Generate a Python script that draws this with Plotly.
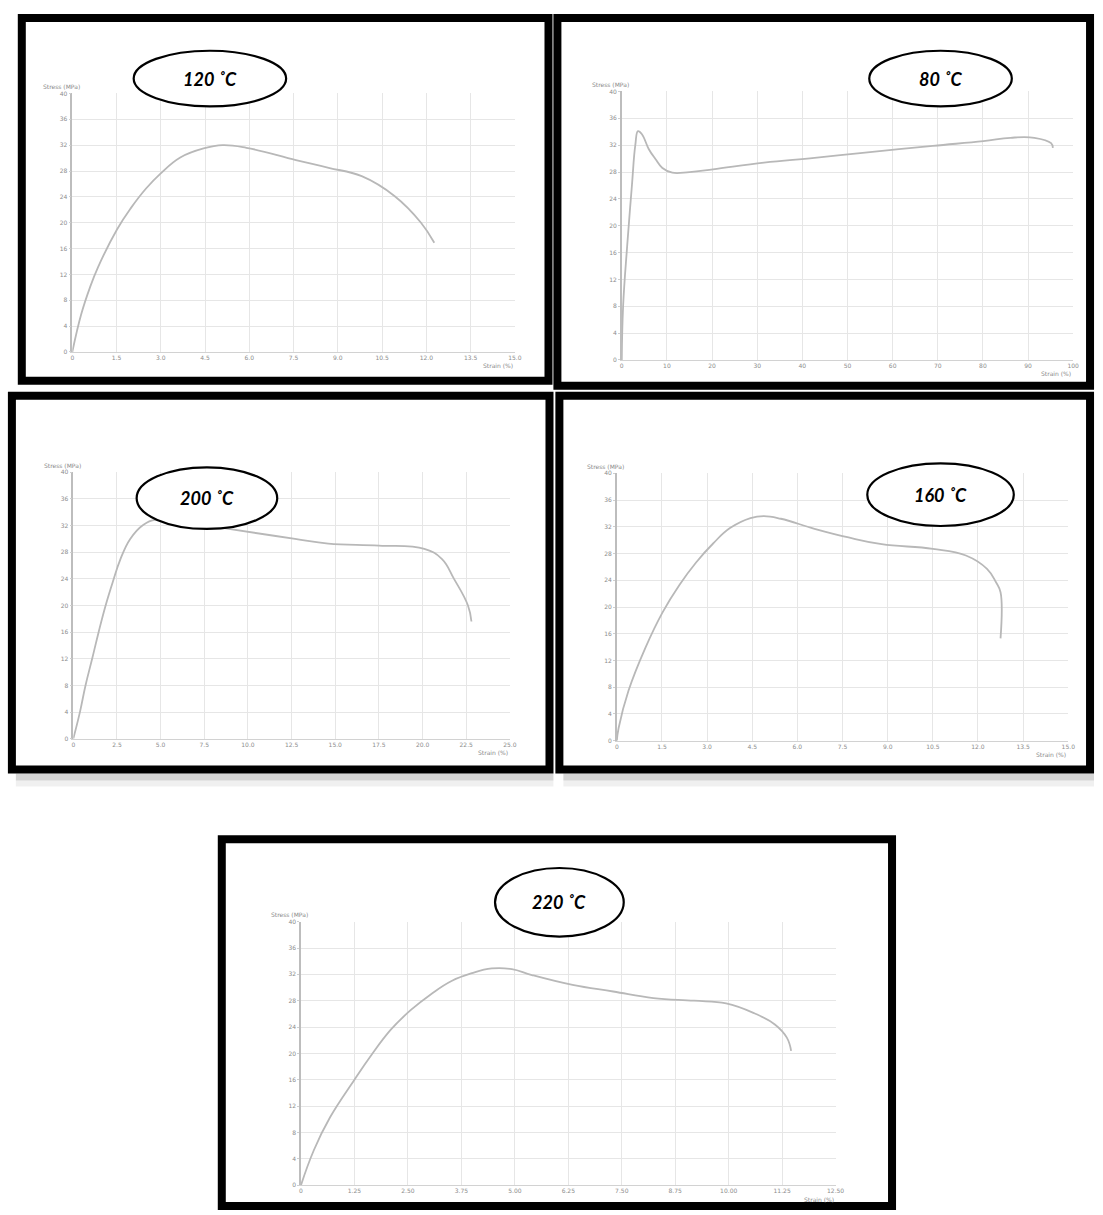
import plotly.graph_objects as go

W, H = 1103, 1215

# ---- tensile curves: strain (%) vs stress (MPa) ----
strain_120 = [0, 0.3, 0.6, 0.87, 1.52, 1.99, 2.5, 2.99, 3.66, 4.45, 5.1, 5.9, 7.58, 8.69, 9.81, 10.93, 11.82, 12.27]
stress_120 = [0, 5.8, 10.0, 13.1, 19.0, 22.3, 25.3, 27.6, 30.1, 31.5, 32.0, 31.6, 29.7, 28.5, 27.2, 24.1, 20.0, 16.9]

strain_80 = [0, 0.3, 1.2, 2.25, 3.0, 3.6, 4.5, 6.0, 7.5, 9.0, 11.2, 15.0, 20.2, 31.5, 42.7, 53.9, 68.9, 80.1, 86.1, 91.4, 95.1, 95.5]
stress_80 = [0, 8.0, 17.0, 26.0, 32.0, 34.1, 33.6, 31.4, 29.9, 28.6, 27.9, 28.0, 28.4, 29.4, 30.1, 30.9, 31.9, 32.6, 33.1, 33.1, 32.3, 31.6]

strain_200 = [0, 0.38, 0.70, 1.08, 1.45, 1.84, 2.27, 2.69, 3.26, 4.0, 4.77, 6.5, 8.9, 12.7, 14.6, 17.5, 20.1, 21.1, 21.8, 22.6, 22.8]
stress_200 = [0, 4.0, 8.0, 12.0, 16.0, 19.9, 23.6, 26.9, 30.0, 32.1, 32.9, 32.4, 31.5, 30.0, 29.3, 29.0, 28.5, 27.0, 24.0, 20.0, 17.6]

strain_160 = [0, 0.06, 0.39, 0.96, 1.52, 2.08, 2.64, 3.2, 3.76, 4.44, 4.89, 5.45, 6.57, 7.7, 8.8, 10.5, 11.6, 12.3, 12.6, 12.75, 12.75]
stress_160 = [0, 1.9, 7.5, 14.0, 19.2, 23.3, 26.7, 29.5, 31.8, 33.3, 33.6, 33.2, 31.7, 30.4, 29.4, 28.7, 27.7, 25.7, 23.7, 22.2, 15.3]

strain_220 = [0, 0.3, 0.68, 1.25, 1.63, 2.1, 2.57, 3.04, 3.52, 4.0, 4.46, 4.93, 5.4, 6.35, 7.3, 8.24, 9.19, 9.94, 10.6, 11.08, 11.36, 11.46]
stress_220 = [0, 5.3, 10.3, 16.0, 19.6, 23.6, 26.6, 29.0, 31.0, 32.2, 32.9, 32.8, 31.9, 30.4, 29.4, 28.4, 28.0, 27.6, 26.1, 24.4, 22.4, 20.4]

# ---- tick labels ----
stress_ticks = [0, 4, 8, 12, 16, 20, 24, 28, 32, 36, 40]
ticks_120 = [0, 1.5, 3.0, 4.5, 6.0, 7.5, 9.0, 10.5, 12.0, 13.5, 15.0]
labels_120 = ["0", "1.5", "3.0", "4.5", "6.0", "7.5", "9.0", "10.5", "12.0", "13.5", "15.0"]
ticks_80 = [0, 10, 20, 30, 40, 50, 60, 70, 80, 90, 100]
labels_80 = ["0", "10", "20", "30", "40", "50", "60", "70", "80", "90", "100"]
ticks_200 = [0, 2.5, 5.0, 7.5, 10.0, 12.5, 15.0, 17.5, 20.0, 22.5, 25.0]
labels_200 = ["0", "2.5", "5.0", "7.5", "10.0", "12.5", "15.0", "17.5", "20.0", "22.5", "25.0"]
ticks_160 = ticks_120
labels_160 = labels_120
ticks_220 = [0, 1.25, 2.5, 3.75, 5.0, 6.25, 7.5, 8.75, 10.0, 11.25, 12.5]
labels_220 = ["0", "1.25", "2.50", "3.75", "5.00", "6.25", "7.50", "8.75", "10.00", "11.25", "12.50"]

temperatures = ["120 ˚C", "80 ˚C", "200 ˚C", "160 ˚C", "220 ˚C"]


def px(x):
    return x / W


def py(y):
    return 1 - y / H


# panel layout in pixels: plot area (x0, x1, ytop, ybottom), frame, ellipse
panels = [
    dict(strain=strain_120, stress=stress_120, ticks=ticks_120, labels=labels_120, xmax=15,
         area=(71, 518, 90, 350), frame=(20, 552, 14, 379), ell=(133, 287, 47, 103)),
    dict(strain=strain_80, stress=stress_80, ticks=ticks_80, labels=labels_80, xmax=100,
         area=(626, 1082, 88, 358), frame=(561, 1099, 14, 384), ell=(876, 1020, 47, 103)),
    dict(strain=strain_200, stress=stress_200, ticks=ticks_200, labels=labels_200, xmax=25,
         area=(72, 513, 471, 739), frame=(10, 553, 394, 770), ell=(136, 278, 466, 528)),
    dict(strain=strain_160, stress=stress_160, ticks=ticks_160, labels=labels_160, xmax=15,
         area=(621, 1077, 472, 741), frame=(563, 1099, 394, 770), ell=(874, 1022, 462, 525)),
    dict(strain=strain_220, stress=stress_220, ticks=ticks_220, labels=labels_220, xmax=12.5,
         area=(302, 842, 923, 1188), frame=(222, 899, 840, 1209), ell=(498, 628, 869, 938)),
]

fig = go.Figure()
shapes = []
annotations = []
tick_font = dict(family="DejaVu Sans", size=6, color="#8c8c8c")
grid_col = "#e6e6e6"

for i, p in enumerate(panels):
    n = "" if i == 0 else str(i + 1)
    x0, x1, yt, yb = p["area"]
    fig.add_trace(go.Scatter(
        x=p["strain"], y=p["stress"], mode="lines",
        line=dict(color="#b8b8b8", width=1.8, shape="spline", smoothing=1.2),
        xaxis="x" + n, yaxis="y" + n, showlegend=False, hoverinfo="skip"))
    fig.layout["xaxis" + n] = dict(
        domain=[px(x0), px(x1)], range=[0, p["xmax"]], anchor="y" + n,
        tickvals=p["ticks"], ticktext=p["labels"], tickfont=tick_font,
        showgrid=True, gridcolor=grid_col, gridwidth=1, zeroline=False,
        showline=True, linecolor="#d2d2d2", linewidth=1, ticks="", fixedrange=True)
    fig.layout["yaxis" + n] = dict(
        domain=[py(yb), py(yt)], range=[0, 40], anchor="x" + n,
        tickvals=stress_ticks, ticktext=[str(v) for v in stress_ticks], tickfont=tick_font,
        showgrid=True, gridcolor=grid_col, gridwidth=1, zeroline=False,
        showline=True, linecolor="#bdbdbd", linewidth=1.5,
        ticks="outside", ticklen=2, tickcolor="#cfcfcf", fixedrange=True)

    # axis titles
    annotations.append(dict(x=px(x0 - 32), y=py(yt - 7), xref="paper", yref="paper",
                            text="Stress (MPa)", showarrow=False, xanchor="left", yanchor="middle",
                            font=dict(family="DejaVu Sans", size=6, color="#8a8a8a")))
    annotations.append(dict(x=px(x1), y=py(yb + 14), xref="paper", yref="paper",
                            text="Strain (%)", showarrow=False, xanchor="right", yanchor="middle",
                            font=dict(family="DejaVu Sans", size=6, color="#8a8a8a")))

    # thick black frame
    fx0, fx1, fy0, fy1 = p["frame"]
    shapes.append(dict(type="rect", xref="paper", yref="paper",
                       x0=px(fx0), x1=px(fx1), y0=py(fy1), y1=py(fy0),
                       line=dict(color="black", width=8), fillcolor="rgba(0,0,0,0)"))

    # temperature label in an ellipse
    ex0, ex1, ey0, ey1 = p["ell"]
    shapes.append(dict(type="circle", xref="paper", yref="paper",
                       x0=px(ex0), x1=px(ex1), y0=py(ey1), y1=py(ey0),
                       line=dict(color="black", width=2.2), fillcolor="white"))
    annotations.append(dict(x=px((ex0 + ex1) / 2), y=py((ey0 + ey1) / 2), xref="paper", yref="paper",
                            text=temperatures[i], showarrow=False, xanchor="center", yanchor="middle",
                            font=dict(family="Lato", size=18, color="black", weight="bold", style="italic")))

# soft shadows under the middle row frames
for sx0, sx1 in [(8, 557), (561, 1103)]:
    shapes.append(dict(type="rect", xref="paper", yref="paper", layer="below",
                       x0=px(sx0 + 6), x1=px(sx1), y0=py(781), y1=py(774),
                       line=dict(width=0), fillcolor="rgba(0,0,0,0.16)"))
    shapes.append(dict(type="rect", xref="paper", yref="paper", layer="below",
                       x0=px(sx0 + 6), x1=px(sx1), y0=py(787), y1=py(781),
                       line=dict(width=0), fillcolor="rgba(0,0,0,0.06)"))

fig.update_layout(
    width=W, height=H, margin=dict(l=0, r=0, t=0, b=0),
    paper_bgcolor="white", plot_bgcolor="white",
    shapes=shapes, annotations=annotations, showlegend=False)

fig.write_html("out.html", config={"displayModeBar": False})
